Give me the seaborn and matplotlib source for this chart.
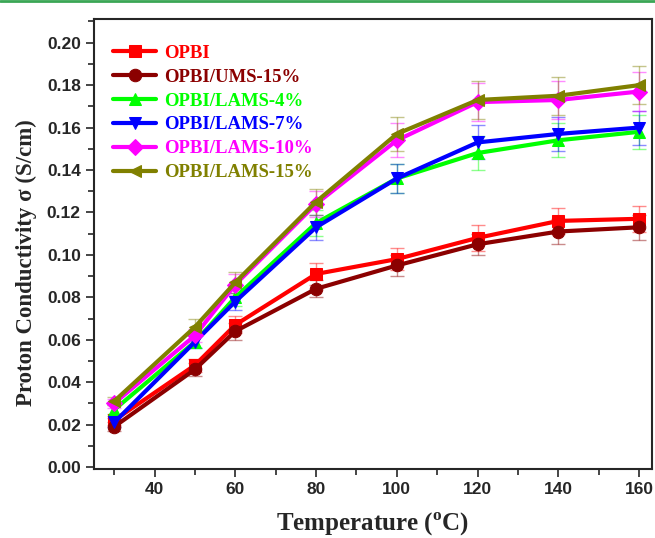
import numpy as np
import pandas as pd
import matplotlib
matplotlib.use('Agg')
import matplotlib.pyplot as plt
from matplotlib.lines import Line2D
from matplotlib.ticker import MultipleLocator
import seaborn as sns

temps = [30, 50, 60, 80, 100, 120, 140, 160]
labels = ['OPBI', 'OPBI/UMS-15%', 'OPBI/LAMS-4%', 'OPBI/LAMS-7%', 'OPBI/LAMS-10%', 'OPBI/LAMS-15%']
opbi = [0.022, 0.048, 0.067, 0.091, 0.098, 0.108, 0.116, 0.117]
ums15 = [0.019, 0.046, 0.064, 0.084, 0.095, 0.105, 0.111, 0.113]
lams4 = [0.027, 0.059, 0.080, 0.115, 0.136, 0.148, 0.154, 0.158]
lams7 = [0.021, 0.059, 0.078, 0.113, 0.136, 0.153, 0.157, 0.160]
lams10 = [0.030, 0.062, 0.086, 0.124, 0.154, 0.172, 0.173, 0.177]
lams15 = [0.031, 0.066, 0.087, 0.125, 0.157, 0.173, 0.175, 0.180]
err_opbi = [0.002, 0.003, 0.004, 0.005, 0.005, 0.006, 0.006, 0.006]
err_ums15 = [0.002, 0.003, 0.004, 0.004, 0.005, 0.005, 0.006, 0.006]
err_lams4 = [0.002, 0.003, 0.004, 0.006, 0.007, 0.008, 0.008, 0.008]
err_lams7 = [0.002, 0.003, 0.004, 0.006, 0.007, 0.008, 0.008, 0.008]
err_lams10 = [0.002, 0.003, 0.005, 0.006, 0.008, 0.009, 0.009, 0.009]
err_lams15 = [0.002, 0.004, 0.005, 0.006, 0.008, 0.009, 0.009, 0.009]

series = [opbi, ums15, lams4, lams7, lams10, lams15]
errors = [err_opbi, err_ums15, err_lams4, err_lams7, err_lams10, err_lams15]
colors = ['#ff0000', '#8b0000', '#00ff00', '#0000ff', '#ff00ff', '#808000']
markers = ['s', 'o', '^', 'v', 'D', '<']
msizes = [8, 9, 9, 9, 8, 9]

sns.set_style('ticks')
plt.rcParams['font.family'] = ['Liberation Sans', 'DejaVu Sans']

fig = plt.figure(figsize=(6.55, 5.38), dpi=100)
ax = fig.add_axes([0.1435, 0.128, 0.852, 0.836])

for lab, vals, err, c, m, ms in zip(labels, series, errors, colors, markers, msizes):
    df = pd.DataFrame({'T': temps, 'sigma': vals})
    ax.errorbar(df['T'], df['sigma'], yerr=err, fmt='none', ecolor=c, alpha=0.45,
                elinewidth=1, capsize=5, capthick=1, zorder=2)
    sns.lineplot(data=df, x='T', y='sigma', ax=ax, color=c, marker=m, markersize=ms,
                 markeredgecolor=c, linewidth=3, label=lab, zorder=3)

ax.set_xlim(25, 163.2)
ax.set_ylim(-0.001, 0.211)
ax.xaxis.set_minor_locator(MultipleLocator(10))
ax.yaxis.set_minor_locator(MultipleLocator(0.01))
ax.set_xticks([40, 60, 80, 100, 120, 140, 160])
yt = np.arange(0, 0.201, 0.02)
ax.set_yticks(yt)
ax.set_yticklabels([f'{v:.2f}' for v in yt])
ax.tick_params(which='major', direction='out', length=6, width=1.2, labelsize=12.5)
ax.tick_params(which='minor', direction='out', length=4, width=1.2)
for lbl in ax.get_xticklabels() + ax.get_yticklabels():
    lbl.set_fontweight('bold')
for sp in ax.spines.values():
    sp.set_linewidth(1.5)
    sp.set_visible(True)

ax.set_xlabel('Temperature ($^{\\mathregular{o}}$C)', family='Liberation Serif',
              fontweight='bold', fontsize=18, labelpad=10)
ax.set_ylabel('Proton Conductivity σ (S/cm)', family='Liberation Serif',
              fontweight='bold', fontsize=16.5)
ax.yaxis.set_label_coords(-0.102, 0.46)

leg = ax.legend(loc='upper left', bbox_to_anchor=(-0.011, 1.0), frameon=False,
                handlelength=2.3, handletextpad=0.4, labelspacing=0.36, borderaxespad=0.95,
                prop={'family': 'Liberation Serif', 'weight': 'bold', 'size': 13.5})
for txt, c in zip(leg.get_texts(), colors):
    txt.set_color(c)

fig.add_artist(Line2D([0, 1], [0.998, 0.998], transform=fig.transFigure,
                      color='#3aa655', linewidth=2))

fig.savefig('out.png', dpi=100)
